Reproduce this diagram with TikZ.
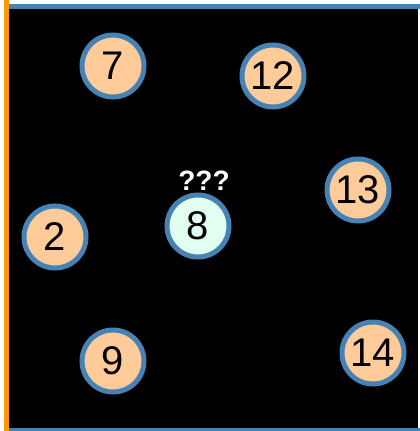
\documentclass[tikz,border=0pt]{standalone}
\usepackage{fontspec}
\setmainfont{Liberation Sans}
\usetikzlibrary{positioning}
\definecolor{edgeblue}{RGB}{70, 130, 180}
\definecolor{peach}{RGB}{255, 204, 153}
\definecolor{mintpale}{RGB}{224, 255, 240}
\definecolor{sideorange}{RGB}{255, 153, 0}

\begin{document}
\begin{tikzpicture}[x=1pt, y=-1pt,
    key/.style={circle, draw=edgeblue, fill=peach, line width=5pt, minimum size=62pt, inner sep=0pt, font=\fontsize{40}{40}\selectfont},
    probe/.style={key, fill=mintpale},
    query/.style={text=white, font=\fontsize{28}{28}\selectfont\bfseries}
]
\useasboundingbox (0,0) rectangle (420,431);
\fill[black] (9,9) rectangle (418,428);
\draw[edgeblue, line width=5pt] (9,6.5) -- (420,6.5);
\draw[edgeblue, line width=4pt] (9,430) -- (420,430);
\draw[sideorange, line width=5pt] (6.5,0) -- (6.5,431);

\node (K7)  [key] at (113,66) {7};
\node (K12) [key] at (273,76) {12};
\node (K13) [key] at (358,190) {13};
\node (K2)  [key] at (55,237) {2};
\node (K8)  [probe] at (198,226) {8};
\node (K9)  [key] at (113,361) {9};
\node (K14) [key] at (373,353) {14};
\node (Q)   [query, above=-2pt of K8, xshift=6pt] {???};

\end{tikzpicture}
\end{document}
